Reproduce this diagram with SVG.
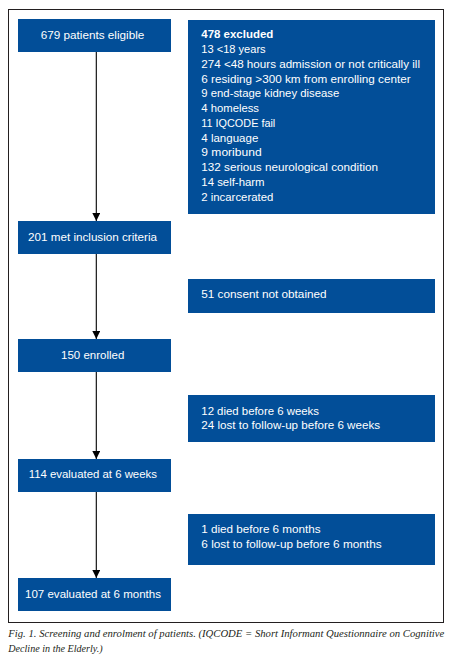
<svg xmlns="http://www.w3.org/2000/svg" width="454" height="661" viewBox="0 0 454 661">
<defs>
<style>
.box{fill:#024e98}
.t{font-family:"Liberation Sans",Arial,sans-serif;font-size:11px;fill:#ffffff}
.c{text-anchor:middle}
.b{font-weight:bold}
.edge{stroke:#000;stroke-width:1.1;fill:none}
.cap{font-family:"Liberation Serif","Times New Roman",serif;font-style:italic;font-size:10px;fill:#231f20}
</style>
<marker id="ah" viewBox="0 0 8 8" refX="8" refY="4" markerWidth="8" markerHeight="8" markerUnits="userSpaceOnUse" orient="auto">
<path d="M0,0 L8,4 L0,8 Z" fill="#000"/>
</marker>
</defs>
<rect width="454" height="661" fill="#fff"/>
<rect x="8.5" y="9.5" width="435" height="613" fill="none" stroke="#231f20" stroke-width="1"/>

<g id="connectors">
<line class="edge" x1="96.3" y1="52" x2="96.3" y2="221" marker-end="url(#ah)"/>
<line class="edge" x1="96.3" y1="254" x2="96.3" y2="339" marker-end="url(#ah)"/>
<line class="edge" x1="96.3" y1="372" x2="96.3" y2="459" marker-end="url(#ah)"/>
<line class="edge" x1="96.3" y1="492" x2="96.3" y2="578" marker-end="url(#ah)"/>
</g>

<g id="n1">
<rect class="box" x="18" y="19" width="153" height="33"/>
<text class="t c" x="92.5" y="39.3" textLength="103.7" lengthAdjust="spacingAndGlyphs">679 patients eligible</text>
</g>
<g id="n2">
<rect class="box" x="18" y="221" width="153" height="33"/>
<text class="t c" x="92.5" y="241" textLength="129" lengthAdjust="spacingAndGlyphs">201 met inclusion criteria</text>
</g>
<g id="n3">
<rect class="box" x="18" y="339" width="153" height="33"/>
<text class="t c" x="92.7" y="359.3" textLength="63.3" lengthAdjust="spacingAndGlyphs">150 enrolled</text>
</g>
<g id="n4">
<rect class="box" x="18" y="459" width="153" height="33"/>
<text class="t c" x="92.8" y="478.3" textLength="128.3" lengthAdjust="spacingAndGlyphs">114 evaluated at 6 weeks</text>
</g>
<g id="n5">
<rect class="box" x="18" y="578" width="153" height="33"/>
<text class="t c" x="93" y="598.3" textLength="136" lengthAdjust="spacingAndGlyphs">107 evaluated at 6 months</text>
</g>

<g id="r1">
<rect class="box" x="188" y="20" width="247" height="194"/>
<text class="t b" x="201.3" y="38.3" textLength="72" lengthAdjust="spacingAndGlyphs">478 excluded</text>
<text class="t" x="201.3" y="53.2" textLength="64.3" lengthAdjust="spacingAndGlyphs">13 &lt;18 years</text>
<text class="t" x="201.3" y="67.7" textLength="218.7" lengthAdjust="spacingAndGlyphs">274 &lt;48 hours admission or not critically ill</text>
<text class="t" x="201.3" y="82.7" textLength="209.3" lengthAdjust="spacingAndGlyphs">6 residing &gt;300 km from enrolling center</text>
<text class="t" x="201.3" y="97.3" textLength="138" lengthAdjust="spacingAndGlyphs">9 end-stage kidney disease</text>
<text class="t" x="201.3" y="112.3" textLength="57.7" lengthAdjust="spacingAndGlyphs">4 homeless</text>
<text class="t" x="201.3" y="127" textLength="74" lengthAdjust="spacingAndGlyphs">11 IQCODE fail</text>
<text class="t" x="201.3" y="141.7" textLength="57" lengthAdjust="spacingAndGlyphs">4 language</text>
<text class="t" x="201.3" y="156.3" textLength="60.3" lengthAdjust="spacingAndGlyphs">9 moribund</text>
<text class="t" x="201.3" y="171.3" textLength="176.7" lengthAdjust="spacingAndGlyphs">132 serious neurological condition</text>
<text class="t" x="201.3" y="186" textLength="63.3" lengthAdjust="spacingAndGlyphs">14 self-harm</text>
<text class="t" x="201.3" y="201" textLength="72" lengthAdjust="spacingAndGlyphs">2 incarcerated</text>
</g>
<g id="r2">
<rect class="box" x="188" y="279" width="247" height="34"/>
<text class="t" x="201.3" y="298.3" textLength="125.3" lengthAdjust="spacingAndGlyphs">51 consent not obtained</text>
</g>
<g id="r3">
<rect class="box" x="188" y="395" width="247" height="47"/>
<text class="t" x="201.3" y="414.7" textLength="117.7" lengthAdjust="spacingAndGlyphs">12 died before 6 weeks</text>
<text class="t" x="201.3" y="429.3" textLength="178.7" lengthAdjust="spacingAndGlyphs">24 lost to follow-up before 6 weeks</text>
</g>
<g id="r4">
<rect class="box" x="188" y="514" width="247" height="51"/>
<text class="t" x="201.3" y="533.3" textLength="119.3" lengthAdjust="spacingAndGlyphs">1 died before 6 months</text>
<text class="t" x="201.3" y="548.3" textLength="180.3" lengthAdjust="spacingAndGlyphs">6 lost to follow-up before 6 months</text>
</g>

<g id="caption">
<text class="cap" x="8.3" y="636.7" textLength="436" lengthAdjust="spacingAndGlyphs">Fig. 1. Screening and enrolment of patients. (IQCODE = Short Informant Questionnaire on Cognitive</text>
<text class="cap" x="8.3" y="651.7" textLength="94.3" lengthAdjust="spacingAndGlyphs">Decline in the Elderly.)</text>
</g>
</svg>
